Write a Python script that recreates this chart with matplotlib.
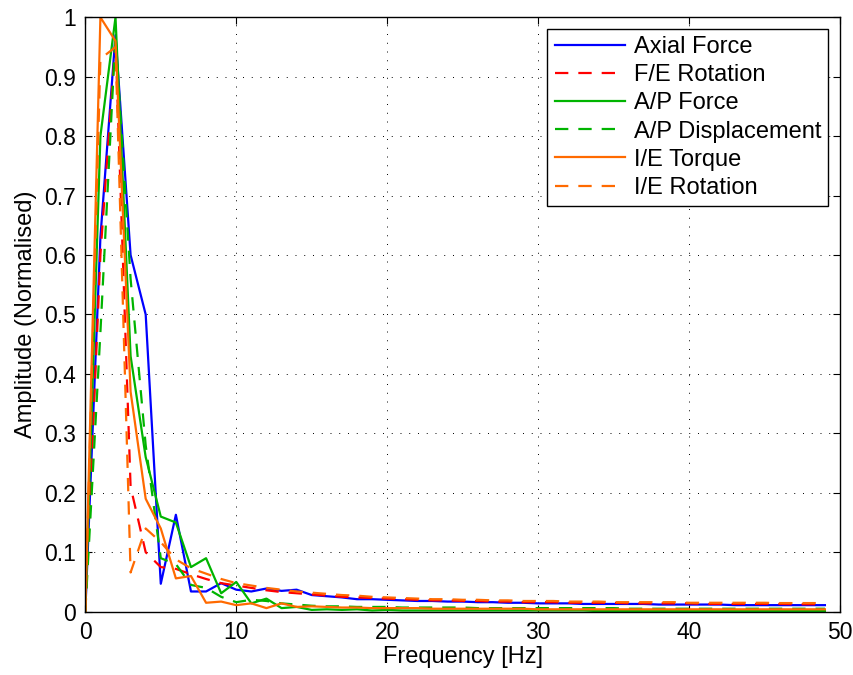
import numpy as np
import matplotlib.pyplot as plt

plt.rcParams['font.family'] = ['Liberation Sans', 'DejaVu Sans']

# frequency bins [Hz]
freq = np.arange(0, 50)

# normalised amplitude spectra (one value per Hz)
axial_force = [0, 0.63, 0.97, 0.60, 0.50, 0.047, 0.163, 0.034, 0.034, 0.048,
               0.037, 0.034, 0.039, 0.035, 0.037, 0.028, 0.026, 0.024, 0.021, 0.021,
               0.020, 0.019, 0.018, 0.018, 0.017, 0.017, 0.016, 0.016, 0.015, 0.015,
               0.014, 0.014, 0.014, 0.013, 0.013, 0.013, 0.013, 0.013, 0.012, 0.012,
               0.012, 0.012, 0.012, 0.011, 0.011, 0.011, 0.011, 0.011, 0.011, 0.011]
fe_rotation = [0, 0.60, 0.96, 0.21, 0.10, 0.075, 0.072, 0.063, 0.055, 0.048,
               0.044, 0.040, 0.036, 0.033, 0.031, 0.029, 0.027, 0.025, 0.024, 0.023,
               0.022, 0.021, 0.020, 0.019, 0.019, 0.018, 0.018, 0.017, 0.017, 0.016,
               0.016, 0.016, 0.015, 0.015, 0.015, 0.015, 0.014, 0.014, 0.014, 0.014,
               0.014, 0.013, 0.013, 0.013, 0.013, 0.013, 0.013, 0.0125, 0.0125, 0.0125]
ap_force = [0, 0.80, 1.0, 0.43, 0.26, 0.16, 0.15, 0.075, 0.09, 0.031,
            0.05, 0.014, 0.022, 0.006, 0.008, 0.003, 0.004, 0.003, 0.004, 0.002,
            0.003, 0.002, 0.002, 0.002, 0.002, 0.002, 0.002, 0.002, 0.002, 0.002,
            0.002, 0.002, 0.002, 0.002, 0.001, 0.001, 0.001, 0.001, 0.001, 0.001,
            0.001, 0.001, 0.001, 0.001, 0.001, 0.001, 0.001, 0.001, 0.001, 0.001]
ap_displacement = [0, 0.47, 0.97, 0.56, 0.28, 0.09, 0.08, 0.045, 0.04, 0.025,
                   0.016, 0.02, 0.018, 0.014, 0.012, 0.010, 0.009, 0.009, 0.008, 0.008,
                   0.008, 0.007, 0.007, 0.007, 0.007, 0.007, 0.006, 0.006, 0.006, 0.006,
                   0.006, 0.006, 0.006, 0.006, 0.006, 0.006, 0.005, 0.005, 0.005, 0.005,
                   0.005, 0.005, 0.005, 0.005, 0.005, 0.005, 0.005, 0.005, 0.005, 0.005]
ie_torque = [0, 1.0, 0.96, 0.37, 0.19, 0.14, 0.056, 0.06, 0.015, 0.017,
             0.011, 0.014, 0.006, 0.014, 0.008, 0.009, 0.008, 0.007, 0.007, 0.006,
             0.006, 0.006, 0.006, 0.005, 0.005, 0.005, 0.005, 0.005, 0.005, 0.005,
             0.004, 0.004, 0.004, 0.004, 0.004, 0.004, 0.004, 0.004, 0.004, 0.004,
             0.004, 0.004, 0.004, 0.004, 0.004, 0.004, 0.004, 0.004, 0.004, 0.004]
ie_rotation = [0, 0.93, 0.95, 0.066, 0.14, 0.117, 0.088, 0.073, 0.064, 0.055,
               0.048, 0.044, 0.040, 0.037, 0.034, 0.032, 0.030, 0.028, 0.027, 0.025,
               0.024, 0.023, 0.022, 0.021, 0.021, 0.020, 0.020, 0.019, 0.019, 0.018,
               0.018, 0.018, 0.017, 0.017, 0.017, 0.016, 0.016, 0.016, 0.016, 0.016,
               0.015, 0.015, 0.015, 0.015, 0.015, 0.015, 0.0145, 0.0145, 0.0145, 0.0145]

labels = ['Axial Force', 'F/E Rotation', 'A/P Force', 'A/P Displacement',
          'I/E Torque', 'I/E Rotation']
xticks = [0, 10, 20, 30, 40, 50]
yticks = [0, 0.1, 0.2, 0.3, 0.4, 0.5, 0.6, 0.7, 0.8, 0.9, 1]
yticklabels = ['0', '0.1', '0.2', '0.3', '0.4', '0.5', '0.6', '0.7', '0.8', '0.9', '1']

blue = '#0000ff'
red = '#ff0000'
green = '#00b400'
orange = '#ff6a00'
dash = (6, 4.5)

fig = plt.figure(figsize=(8.54, 6.75), dpi=100)
ax = fig.add_axes([0.0999, 0.0938, 0.8837, 0.8806])

lw = 1.6
ax.plot(freq, axial_force, color=blue, lw=lw, label=labels[0])
ax.plot(freq, fe_rotation, color=red, lw=lw, dashes=dash, label=labels[1])
ax.plot(freq, ap_force, color=green, lw=lw, label=labels[2])
ax.plot(freq, ap_displacement, color=green, lw=lw, dashes=dash, label=labels[3])
ax.plot(freq, ie_torque, color=orange, lw=lw, label=labels[4])
ax.plot(freq, ie_rotation, color=orange, lw=lw, dashes=dash, label=labels[5])

ax.set_xlim(0, 50)
ax.set_ylim(0, 1)
ax.set_xticks(xticks)
ax.set_yticks(yticks)
ax.set_yticklabels(yticklabels)
ax.tick_params(direction='in', length=5, width=0.8, labelsize=16.5,
               top=True, right=True, pad=7)
ax.grid(True, color='k', lw=0.7, dashes=(1, 8))
for s in ax.spines.values():
    s.set_linewidth(1.0)

ax.set_xlabel('Frequency [Hz]', fontsize=17, labelpad=1)
ax.set_ylabel('Amplitude (Normalised)', fontsize=17, labelpad=5)

leg = ax.legend(loc='upper right', fontsize=17, fancybox=False, framealpha=1,
                edgecolor='k', handlelength=3.0, handletextpad=0.35,
                labelspacing=0.26, borderaxespad=0.5, borderpad=0.3)
leg.get_frame().set_linewidth(1.0)

fig.savefig('out.png', dpi=100)
